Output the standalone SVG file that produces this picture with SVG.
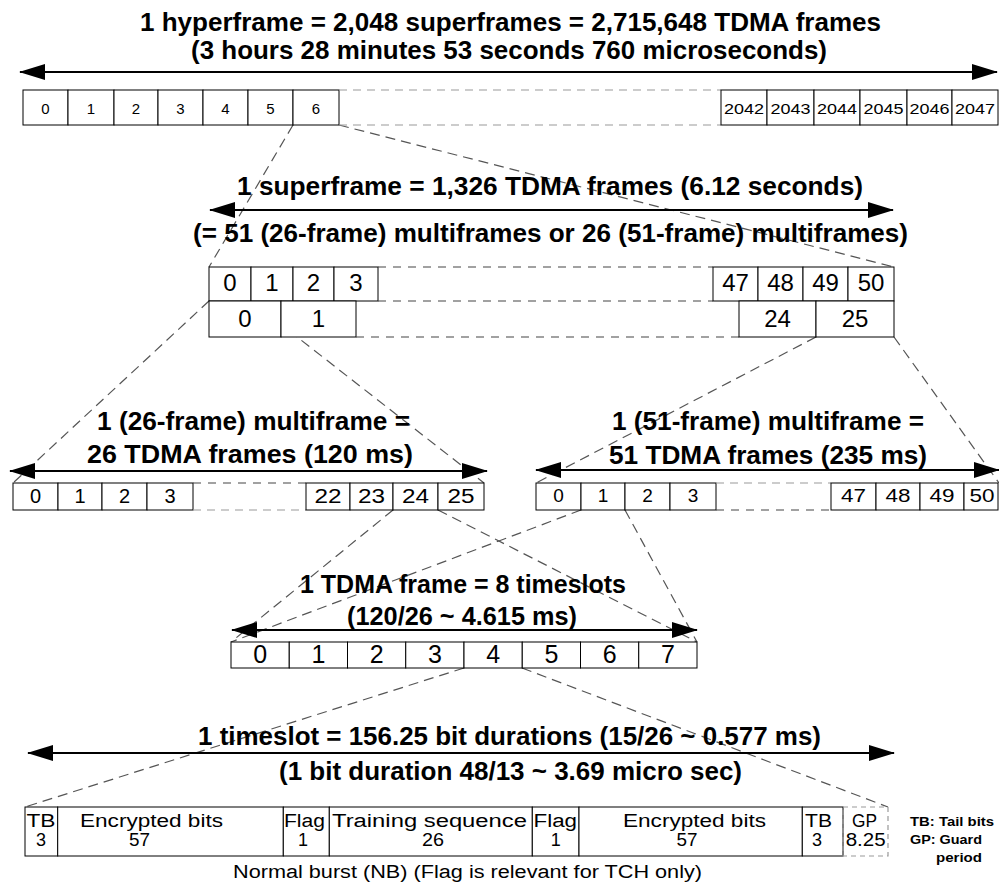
<svg xmlns="http://www.w3.org/2000/svg" width="999" height="884" viewBox="0 0 999 884">
<defs>
<style>
.t{font-family:"Liberation Sans",Arial,sans-serif;font-weight:bold;font-size:25px;fill:#000}
.c{fill:#fff;stroke:#000;stroke-width:1}
.n{font-family:"Liberation Sans",Arial,sans-serif;fill:#000;text-anchor:middle}
.b{font-family:"Liberation Sans",Arial,sans-serif;font-size:18px;fill:#000}
.m{text-anchor:middle}
.lg{font-family:"Liberation Sans",Arial,sans-serif;font-weight:bold;font-size:12px;fill:#000}
.ar{stroke:#000;stroke-width:2;fill:none;marker-start:url(#ah);marker-end:url(#ah)}
.dl{stroke:#999;stroke-width:1.2;stroke-dasharray:8 6;fill:none}
.dd{stroke:#444;stroke-width:1.2;stroke-dasharray:8 7;fill:none}
.cn{stroke:#555;stroke-width:1.2;stroke-dasharray:10 6;fill:none}
</style>
<marker id="ah" markerUnits="userSpaceOnUse" markerWidth="26" markerHeight="16" refX="25" refY="8" orient="auto-start-reverse" viewBox="0 0 26 16">
<path d="M0,0 L26,8 L0,16 z" fill="#000"/>
</marker>
</defs>
<rect width="999" height="884" fill="#fff"/>

<g id="connectors">
<line class="cn" x1="293" y1="125" x2="209" y2="267"/>
<line class="cn" x1="339" y1="125" x2="894" y2="267"/>
<line class="cn" x1="209" y1="301" x2="13" y2="483"/>
<line class="cn" x1="251" y1="301" x2="484" y2="483"/>
<line class="cn" x1="816" y1="337" x2="536" y2="483"/>
<line class="cn" x1="894" y1="337" x2="999" y2="483"/>
<line class="cn" x1="393" y1="510" x2="231" y2="642"/>
<line class="cn" x1="438" y1="510" x2="697" y2="642"/>
<line class="cn" x1="581" y1="510" x2="231" y2="642"/>
<line class="cn" x1="625" y1="510" x2="697" y2="642"/>
<line class="cn" x1="464" y1="668" x2="25" y2="807"/>
<line class="cn" x1="522" y1="668" x2="888" y2="807"/>
</g>

<g id="hyperframe">
<text class="t" x="140" y="31" font-size="26" textLength="741" lengthAdjust="spacingAndGlyphs">1 hyperframe = 2,048 superframes = 2,715,648 TDMA frames</text>
<text class="t" x="191" y="59" font-size="26" textLength="636" lengthAdjust="spacingAndGlyphs">(3 hours 28 minutes 53 seconds 760 microseconds)</text>
<line class="ar" x1="20" y1="72" x2="997" y2="72"/>
<g font-size="15">
<rect class="c" x="23" y="90" width="45" height="35"/><text class="n" x="45.5" y="114">0</text>
<rect class="c" x="68" y="90" width="46" height="35"/><text class="n" x="91" y="114">1</text>
<rect class="c" x="114" y="90" width="44" height="35"/><text class="n" x="136" y="114">2</text>
<rect class="c" x="158" y="90" width="45" height="35"/><text class="n" x="180.5" y="114">3</text>
<rect class="c" x="203" y="90" width="45" height="35"/><text class="n" x="225.5" y="114">4</text>
<rect class="c" x="248" y="90" width="45" height="35"/><text class="n" x="270.5" y="114">5</text>
<rect class="c" x="293" y="90" width="46" height="35"/><text class="n" x="316" y="114">6</text>
<line class="dl" x1="339" y1="90" x2="721" y2="90"/>
<line class="dl" x1="339" y1="125" x2="721" y2="125"/>
<rect class="c" x="721" y="90" width="46" height="35"/><text class="n" x="744" y="114" textLength="40" lengthAdjust="spacingAndGlyphs">2042</text>
<rect class="c" x="767" y="90" width="47" height="35"/><text class="n" x="790.5" y="114" textLength="40" lengthAdjust="spacingAndGlyphs">2043</text>
<rect class="c" x="814" y="90" width="46" height="35"/><text class="n" x="837" y="114" textLength="40" lengthAdjust="spacingAndGlyphs">2044</text>
<rect class="c" x="860" y="90" width="47" height="35"/><text class="n" x="883.5" y="114" textLength="40" lengthAdjust="spacingAndGlyphs">2045</text>
<rect class="c" x="907" y="90" width="45" height="35"/><text class="n" x="929.5" y="114" textLength="40" lengthAdjust="spacingAndGlyphs">2046</text>
<rect class="c" x="952" y="90" width="46" height="35"/><text class="n" x="975" y="114" textLength="40" lengthAdjust="spacingAndGlyphs">2047</text>
</g>
</g>

<g id="superframe">
<text class="t" x="237" y="195" font-size="24" textLength="626" lengthAdjust="spacingAndGlyphs">1 superframe = 1,326 TDMA frames (6.12 seconds)</text>
<line class="ar" x1="210" y1="210" x2="893" y2="210"/>
<text class="t" x="193" y="242" font-size="24" textLength="715" lengthAdjust="spacingAndGlyphs">(= 51 (26-frame) multiframes or 26 (51-frame) multiframes)</text>
<g font-size="24">
<rect class="c" x="209" y="267" width="42" height="34"/><text class="n" x="230" y="291">0</text>
<rect class="c" x="251" y="267" width="42" height="34"/><text class="n" x="272" y="291">1</text>
<rect class="c" x="293" y="267" width="41" height="34"/><text class="n" x="313.5" y="291">2</text>
<rect class="c" x="334" y="267" width="44" height="34"/><text class="n" x="356" y="291">3</text>
<rect class="c" x="209" y="301" width="72" height="36"/><text class="n" x="245" y="327">0</text>
<rect class="c" x="281" y="301" width="75" height="36"/><text class="n" x="318.5" y="327">1</text>
<line class="dd" x1="378" y1="267" x2="713" y2="267"/>
<line class="dd" x1="378" y1="301" x2="713" y2="301"/>
<line class="dd" x1="356" y1="337" x2="739" y2="337"/>
<rect class="c" x="713" y="267" width="45" height="34"/><text class="n" x="735.5" y="291">47</text>
<rect class="c" x="758" y="267" width="45" height="34"/><text class="n" x="780.5" y="291">48</text>
<rect class="c" x="803" y="267" width="45" height="34"/><text class="n" x="825.5" y="291">49</text>
<rect class="c" x="848" y="267" width="46" height="34"/><text class="n" x="871" y="291">50</text>
<rect class="c" x="739" y="301" width="77" height="36"/><text class="n" x="777.5" y="327">24</text>
<rect class="c" x="816" y="301" width="78" height="36"/><text class="n" x="855" y="327">25</text>
</g>
</g>

<g id="multiframe26">
<text class="t" x="97" y="430" font-size="24" textLength="313" lengthAdjust="spacingAndGlyphs">1 (26-frame) multiframe =</text>
<text class="t" x="87" y="463" font-size="24" textLength="326" lengthAdjust="spacingAndGlyphs">26 TDMA frames (120 ms)</text>
<line class="ar" x1="10" y1="471" x2="487" y2="471"/>
<g font-size="20">
<rect class="c" x="13" y="483" width="45" height="27"/><text class="n" x="35.5" y="503">0</text>
<rect class="c" x="58" y="483" width="44" height="27"/><text class="n" x="80" y="503">1</text>
<rect class="c" x="102" y="483" width="45" height="27"/><text class="n" x="124.5" y="503">2</text>
<rect class="c" x="147" y="483" width="46" height="27"/><text class="n" x="170" y="503">3</text>
<line class="dd" x1="193" y1="483" x2="306" y2="483" stroke="#777"/>
<line class="dl" x1="193" y1="510" x2="306" y2="510"/>
<rect class="c" x="306" y="483" width="44" height="27"/><text class="n" x="328" y="503" textLength="27" lengthAdjust="spacingAndGlyphs">22</text>
<rect class="c" x="350" y="483" width="43" height="27"/><text class="n" x="371.5" y="503" textLength="27" lengthAdjust="spacingAndGlyphs">23</text>
<rect class="c" x="393" y="483" width="45" height="27"/><text class="n" x="415.5" y="503" textLength="27" lengthAdjust="spacingAndGlyphs">24</text>
<rect class="c" x="438" y="483" width="46" height="27"/><text class="n" x="461" y="503" textLength="27" lengthAdjust="spacingAndGlyphs">25</text>
</g>
</g>

<g id="multiframe51">
<text class="t" x="612" y="430" font-size="24" textLength="312" lengthAdjust="spacingAndGlyphs">1 (51-frame) multiframe =</text>
<text class="t" x="609" y="464" font-size="24" textLength="318" lengthAdjust="spacingAndGlyphs">51 TDMA frames (235 ms)</text>
<line class="ar" x1="536" y1="470" x2="999" y2="470"/>
<g font-size="19">
<rect class="c" x="536" y="483" width="45" height="27"/><text class="n" x="558.5" y="502">0</text>
<rect class="c" x="581" y="483" width="44" height="27"/><text class="n" x="603" y="502">1</text>
<rect class="c" x="625" y="483" width="45" height="27"/><text class="n" x="647.5" y="502">2</text>
<rect class="c" x="670" y="483" width="46" height="27"/><text class="n" x="693" y="502">3</text>
<line class="dl" x1="716" y1="483" x2="831" y2="483"/>
<line class="dd" x1="716" y1="510" x2="831" y2="510"/>
<rect class="c" x="831" y="483" width="45" height="27"/><text class="n" x="853.5" y="502" textLength="25" lengthAdjust="spacingAndGlyphs">47</text>
<rect class="c" x="876" y="483" width="44" height="27"/><text class="n" x="898" y="502" textLength="25" lengthAdjust="spacingAndGlyphs">48</text>
<rect class="c" x="920" y="483" width="44" height="27"/><text class="n" x="942" y="502" textLength="25" lengthAdjust="spacingAndGlyphs">49</text>
<rect class="c" x="964" y="483" width="34" height="27"/><text class="n" x="982" y="502" textLength="25" lengthAdjust="spacingAndGlyphs">50</text>
</g>
</g>

<g id="tdma-frame">
<text class="t" x="300" y="593" font-size="24" textLength="326" lengthAdjust="spacingAndGlyphs">1 TDMA frame = 8 timeslots</text>
<text class="t" x="347" y="625" font-size="24" textLength="230" lengthAdjust="spacingAndGlyphs">(120/26 ~ 4.615 ms)</text>
<line class="ar" x1="232" y1="630" x2="697" y2="630"/>
<g font-size="25">
<rect class="c" x="231" y="642" width="58.25" height="26"/><text class="n" x="260.1" y="663">0</text>
<rect class="c" x="289.25" y="642" width="58.25" height="26"/><text class="n" x="318.4" y="663">1</text>
<rect class="c" x="347.5" y="642" width="58.25" height="26"/><text class="n" x="376.6" y="663">2</text>
<rect class="c" x="405.75" y="642" width="58.25" height="26"/><text class="n" x="434.9" y="663">3</text>
<rect class="c" x="464" y="642" width="58.25" height="26"/><text class="n" x="493.1" y="663">4</text>
<rect class="c" x="522.25" y="642" width="58.25" height="26"/><text class="n" x="551.4" y="663">5</text>
<rect class="c" x="580.5" y="642" width="58.25" height="26"/><text class="n" x="609.6" y="663">6</text>
<rect class="c" x="638.75" y="642" width="58.25" height="26"/><text class="n" x="667.9" y="663">7</text>
</g>
</g>

<g id="timeslot">
<text class="t" x="198" y="745" font-size="24" textLength="623" lengthAdjust="spacingAndGlyphs">1 timeslot = 156.25 bit durations (15/26 ~ 0.577 ms)</text>
<line class="ar" x1="28" y1="753" x2="894" y2="753"/>
<text class="t" x="279" y="780" font-size="24" textLength="463" lengthAdjust="spacingAndGlyphs">(1 bit duration 48/13 ~ 3.69 micro sec)</text>
</g>

<g id="normal-burst">
<rect class="c" x="25" y="807" width="32.7" height="49"/>
<rect class="c" x="57.7" y="807" width="225.6" height="49"/>
<rect class="c" x="283.3" y="807" width="46" height="49"/>
<rect class="c" x="329.3" y="807" width="203" height="49"/>
<rect class="c" x="532.3" y="807" width="46.7" height="49"/>
<rect class="c" x="579" y="807" width="223.3" height="49"/>
<rect class="c" x="802.3" y="807" width="40.7" height="49"/>
<rect x="843" y="807" width="45" height="49" fill="none" stroke="#999" stroke-width="1.2" stroke-dasharray="5 4"/>
<text class="b m" x="41" y="827" textLength="29" lengthAdjust="spacingAndGlyphs">TB</text>
<text class="b m" x="41" y="846">3</text>
<text class="b" x="80" y="827" textLength="143" lengthAdjust="spacingAndGlyphs">Encrypted bits</text>
<text class="b m" x="139.5" y="846" textLength="21" lengthAdjust="spacingAndGlyphs">57</text>
<text class="b" x="284" y="827" textLength="41" lengthAdjust="spacingAndGlyphs">Flag</text>
<text class="b m" x="303" y="846">1</text>
<text class="b" x="332" y="827" textLength="195" lengthAdjust="spacingAndGlyphs">Training sequence</text>
<text class="b m" x="433" y="846" textLength="22" lengthAdjust="spacingAndGlyphs">26</text>
<text class="b" x="533.5" y="827" textLength="43.5" lengthAdjust="spacingAndGlyphs">Flag</text>
<text class="b m" x="555.7" y="846">1</text>
<text class="b" x="623" y="827" textLength="143" lengthAdjust="spacingAndGlyphs">Encrypted bits</text>
<text class="b m" x="687" y="846" textLength="21" lengthAdjust="spacingAndGlyphs">57</text>
<text class="b m" x="818.5" y="827" textLength="27" lengthAdjust="spacingAndGlyphs">TB</text>
<text class="b m" x="817" y="846">3</text>
<text class="b m" x="864.5" y="827" textLength="25" lengthAdjust="spacingAndGlyphs">GP</text>
<text class="b m" x="865.7" y="846" textLength="40" lengthAdjust="spacingAndGlyphs">8.25</text>
<text class="b" x="233" y="878" textLength="469" lengthAdjust="spacingAndGlyphs">Normal burst (NB) (Flag is relevant for TCH only)</text>
</g>

<g id="legend">
<text class="lg" x="910" y="826" textLength="84" lengthAdjust="spacingAndGlyphs">TB: Tail bits</text>
<text class="lg" x="910" y="844" textLength="72" lengthAdjust="spacingAndGlyphs">GP: Guard</text>
<text class="lg" x="936" y="862" textLength="46" lengthAdjust="spacingAndGlyphs">period</text>
</g>
</svg>
